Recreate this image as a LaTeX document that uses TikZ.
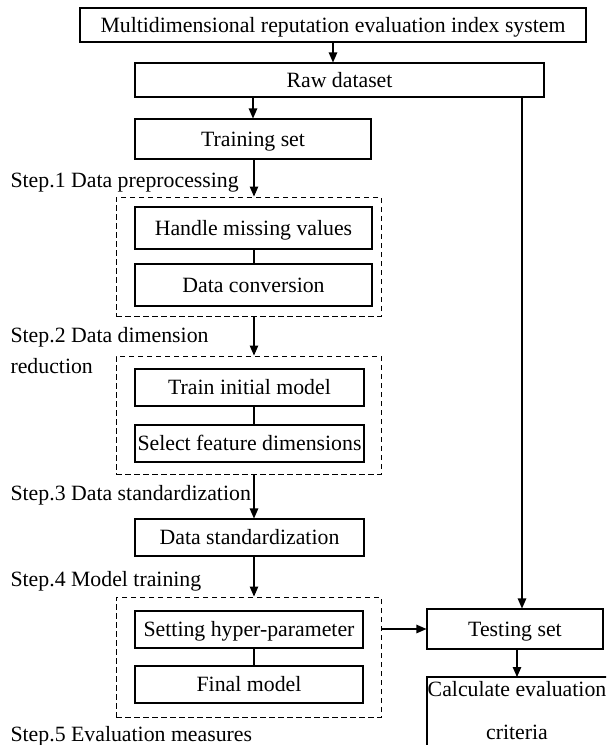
\documentclass[tikz,border=0pt]{standalone}
\usepackage{fontspec}
\setmainfont{Liberation Serif}
\usetikzlibrary{arrows.meta}

\tikzset{
  box/.style={draw, inner sep=0pt, text height=14.5pt, text depth=0pt},
  dashbox/.style={draw, line width=1pt, dash pattern=on 5.5pt off 3.5pt},
  steplabel/.style={anchor=base west, inner sep=0pt},
  arr/.style={-{Triangle[length=10pt,width=8.5pt]}},
}

\begin{document}
\begin{tikzpicture}[x=1pt,y=-1pt,line width=1.1pt,font=\fontsize{21.8}{31}\selectfont]
  \useasboundingbox (0,0) rectangle (606,745);
  \clip (0,0) rectangle (606,745);
  \coordinate (axis) at (254,0);
  \coordinate (rside) at (522,0);

  % main column
  \node[box, minimum width=506, minimum height=34] (index) at (333,25) {Multidimensional reputation evaluation index system};
  \node[box, minimum width=409, minimum height=34] (raw) at (339.5,80) {Raw dataset};
  \node[box, minimum width=236, minimum height=40] (train) at (253,139) {Training set};

  \node[steplabel] (step1) at (10,187) {Step.1 Data preprocessing};
  \node[dashbox, minimum width=265, minimum height=119] (grp1) at (248.5,256.5) {};
  \node[box, minimum width=237, minimum height=42] (missing) at (253.5,228) {Handle missing values};
  \node[box, minimum width=237, minimum height=42] (convert) at (253.5,285) {Data conversion};

  \node[anchor=west, align=left, inner sep=0pt] (step2) at (10,351) {Step.2 Data dimension\\reduction};
  \node[dashbox, minimum width=265, minimum height=118] (grp2) at (248.5,415) {};
  \node[box, minimum width=229, minimum height=37] (initial) at (249.5,387.5) {Train initial model};
  \node[box, minimum width=229, minimum height=37] (feature) at (249.5,443.5) {Select feature dimensions};

  \node[steplabel] (step3) at (10,500) {Step.3 Data standardization};
  \node[box, minimum width=229, minimum height=37] (std) at (249.5,537.5) {Data standardization};

  \node[steplabel] (step4) at (10,586) {Step.4 Model training};
  \node[dashbox, minimum width=265, minimum height=120] (grp3) at (248.5,657) {};
  \node[box, minimum width=228, minimum height=37] (hyper) at (249,629.5) {Setting hyper-parameter};
  \node[box, minimum width=228, minimum height=37] (final) at (249,684.5) {Final model};

  \node[steplabel] (step5) at (10,741) {Step.5 Evaluation measures};

  % right column
  \node[box, minimum width=176, minimum height=40] (test) at (515,629) {Testing set};
  \node[anchor=north, align=center, inner xsep=0pt, inner ysep=4pt, font=\fontsize{21.8}{43}\selectfont] (calc) at (517,677) {Calculate evaluation\\criteria};
  \draw (427,677) rectangle (608,760);

  % connectors
  \draw[arr] (index.south) -- (index.south |- raw.north);
  \draw[arr] (raw.south -| train.north) -- (train.north);
  \draw[arr] (train.south -| axis) -- (grp1.north -| axis);
  \draw (missing.south -| axis) -- (convert.north -| axis);
  \draw[arr] (grp1.south -| axis) -- (grp2.north -| axis);
  \draw (initial.south -| axis) -- (feature.north -| axis);
  \draw[arr] (grp2.south -| axis) -- (std.north -| axis);
  \draw[arr] (std.south -| axis) -- (grp3.north -| axis);
  \draw (hyper.south -| axis) -- (final.north -| axis);
  \draw[arr] (raw.south -| rside) -- (test.north -| rside);
  \draw[arr] (grp3.east |- test.west) -- (test.west);
  \draw[arr] (test.south -| calc.north) -- (calc.north);
\end{tikzpicture}
\end{document}
